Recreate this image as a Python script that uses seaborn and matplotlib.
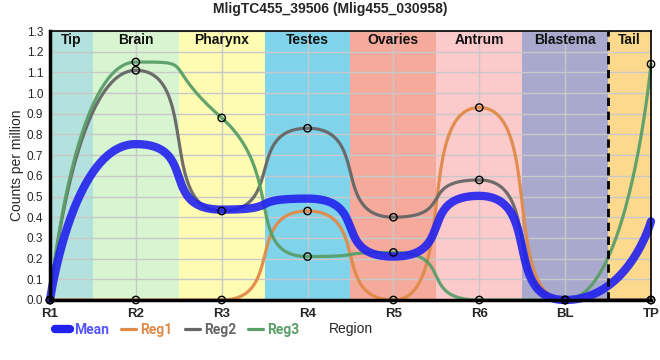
import numpy as np
import pandas as pd
import matplotlib
matplotlib.use("Agg")
import matplotlib.pyplot as plt
import seaborn as sns
from matplotlib.lines import Line2D

# data
regions = ["R1", "R2", "R3", "R4", "R5", "R6", "BL", "TP"]
reg1 = [0.0, 0.0, 0.0, 0.43, 0.0, 0.93, 0.0, 0.0]
reg2 = [0.0, 1.11, 0.43, 0.83, 0.40, 0.58, 0.0, 0.0]
reg3 = [0.0, 1.15, 0.88, 0.21, 0.23, 0.0, 0.0, 1.14]

band_names = ["Tip", "Brain", "Pharynx", "Testes", "Ovaries", "Antrum", "Blastema", "Tail"]
band_edges = [0, 0.5, 1.5, 2.5, 3.5, 4.5, 5.5, 6.5, 7]
band_colors = ["#b3e1dd", "#d7f5d1", "#fefcb3", "#7fd4eb", "#f5aa9c",
               "#fdcacb", "#a9a9cd", "#fdd98d"]

colors = {"Mean": "#2222ee", "Reg1": "#e08a48", "Reg2": "#666666", "Reg3": "#5a9e68"}


def spline(x, y, sm=0.35, n=80):
    # bezier spline, control points kept between neighbouring values
    k = len(x)
    lc = [None] * k
    rc = [None] * k
    for i in range(1, k - 1):
        px, py = x[i], y[i]
        lx, ly, nx, ny = x[i - 1], y[i - 1], x[i + 1], y[i + 1]
        lcx, lcy = (sm * px + lx) / (sm + 1), (sm * py + ly) / (sm + 1)
        rcx, rcy = (sm * px + nx) / (sm + 1), (sm * py + ny) / (sm + 1)
        corr = (rcy - lcy) * (rcx - px) / (rcx - lcx) + py - rcy
        lcy += corr
        rcy += corr
        if lcy > ly and lcy > py:
            lcy = max(ly, py); rcy = 2 * py - lcy
        elif lcy < ly and lcy < py:
            lcy = min(ly, py); rcy = 2 * py - lcy
        if rcy > ny and rcy > py:
            rcy = max(ny, py); lcy = 2 * py - rcy
        elif rcy < ny and rcy < py:
            rcy = min(ny, py); lcy = 2 * py - rcy
        lc[i] = (lcx, lcy)
        rc[i] = (rcx, rcy)
    t = np.linspace(0, 1, n)[:, None]
    out = []
    for i in range(1, k):
        p0 = np.array([x[i - 1], y[i - 1]])
        p3 = np.array([x[i], y[i]])
        c1 = np.array(rc[i - 1]) if rc[i - 1] else p0
        c2 = np.array(lc[i]) if lc[i] else p3
        seg = ((1 - t) ** 3 * p0 + 3 * (1 - t) ** 2 * t * c1
               + 3 * (1 - t) * t ** 2 * c2 + t ** 3 * p3)
        out.append(seg if i == 1 else seg[1:])
    return np.vstack(out)


xpos = np.arange(len(regions), dtype=float)
mean = np.mean([reg1, reg2, reg3], axis=0)
series = {"Mean": mean, "Reg1": reg1, "Reg2": reg2, "Reg3": reg3}

frames = []
for k, v in series.items():
    pts = spline(xpos, list(v))
    frames.append(pd.DataFrame({"x": pts[:, 0], "y": pts[:, 1], "series": k}))
curves = pd.concat(frames, ignore_index=True)
points = pd.concat([pd.DataFrame({"x": xpos, "y": series[k], "series": k})
                    for k in ["Reg1", "Reg2", "Reg3"]], ignore_index=True)

sns.set_theme(style="white")
plt.rcParams["font.family"] = ["Liberation Sans", "DejaVu Sans"]

fig = plt.figure(figsize=(6.6, 3.6), dpi=100)
ax = fig.add_axes([50 / 660, 1 - 300 / 360, 601 / 660, 269 / 360])

for i, name in enumerate(band_names):
    ax.axvspan(band_edges[i], band_edges[i + 1], color=band_colors[i], zorder=0.1, lw=0)
    ax.text((band_edges[i] + band_edges[i + 1]) / 2, 1.255, name, ha="center", va="center",
            fontsize=10, fontweight="bold", color="#111111", zorder=5)

ax.set_axisbelow(True)
ax.grid(True, color="#c8c8c8", lw=1)

for k in ["Reg1", "Reg2", "Reg3"]:
    sns.lineplot(data=curves[curves.series == k], x="x", y="y", color=colors[k],
                 lw=2.3, alpha=0.95, ax=ax, legend=False, clip_on=False, zorder=3,
                 sort=False, estimator=None)
sns.lineplot(data=curves[curves.series == "Mean"], x="x", y="y", color=colors["Mean"],
             lw=6, alpha=0.9, ax=ax, legend=False, clip_on=False, zorder=4,
             sort=False, estimator=None)
sns.scatterplot(data=points, x="x", y="y", marker="o", s=28, facecolor="none",
                edgecolor="black", linewidth=1, ax=ax, legend=False, clip_on=False, zorder=6)

ax.axvline(6.5, color="black", lw=2, ls=(0, (3, 2)), zorder=5)

ax.set_xlim(0, 7)
ax.set_ylim(0, 1.3)
ax.set_xticks(xpos)
ax.set_xticklabels(regions, fontsize=9.5, fontweight="bold")
ax.set_yticks(np.round(np.arange(0, 1.31, 0.1), 1))
ax.set_yticklabels([f"{v:.1f}" for v in np.arange(0, 1.31, 0.1)], fontsize=8.5)
ax.tick_params(axis="x", direction="inout", length=8, width=1, pad=2, color="black")
ax.tick_params(axis="y", direction="out", length=4, width=1, pad=1, color="black")
ax.set_ylabel("Counts per million", fontsize=10, labelpad=2)
ax.set_xlabel("Region", fontsize=10, labelpad=1)

for s in ["left", "bottom"]:
    ax.spines[s].set_linewidth(2.5)
for s in ["top", "right"]:
    ax.spines[s].set_linewidth(1.2)
for s in ax.spines.values():
    s.set_color("black")
    s.set_zorder(7)

fig.text(0.5, 0.975, "MligTC455_39506 (Mlig455_030958)", ha="center", va="center",
         fontsize=10, fontweight="bold")

handles = [Line2D([], [], color=colors["Mean"], lw=6),
           Line2D([], [], color=colors["Reg1"], lw=2.3),
           Line2D([], [], color=colors["Reg2"], lw=2.3),
           Line2D([], [], color=colors["Reg3"], lw=2.3)]
leg = fig.legend(handles, ["Mean", "Reg1", "Reg2", "Reg3"], loc="center left",
                 bbox_to_anchor=(55 / 660, 1 - 330 / 360), ncol=4, frameon=False,
                 handlelength=1.1, handletextpad=0.3, columnspacing=0.85,
                 prop={"family": ["Roboto", "DejaVu Sans"], "size": 10, "weight": "bold"},
                 borderaxespad=0, borderpad=0)
for t, k in zip(leg.get_texts(), ["Mean", "Reg1", "Reg2", "Reg3"]):
    t.set_color(colors[k] if k != "Mean" else "#5555ff")

fig.savefig("out.png", dpi=100)
